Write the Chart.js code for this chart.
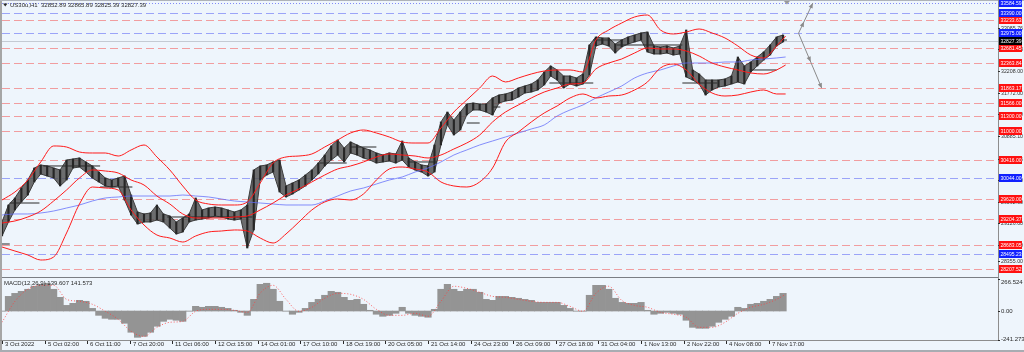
<!DOCTYPE html>
<html>
<head>
<meta charset="utf-8">
<script src="https://cdn.jsdelivr.net/npm/chart.js@4.4.1/dist/chart.umd.min.js"></script>
<style>
html,body{margin:0;padding:0;background:#eef5fc;overflow:hidden;}
#wrap{position:relative;width:1024px;height:352px;background:#eef5fc;}
canvas{position:absolute;left:0;}
#main{top:0;}
#macd{top:277px;}
</style>
</head>
<body>
<div id="wrap">
<canvas id="main" width="1024" height="278"></canvas>
<canvas id="macd" width="1024" height="75"></canvas>
</div>
<script>
// ---------------- data ----------------
const symbolTitle = 'US30u,H1  32852.89 32865.89 32825.39 32827.39';
const macdTitle = 'MACD(12,26,9) 139.607 141.573';

// price ranges, one entry per 5 H1 bars
const candleStep = 5;
const candleHigh = [29153,29497,29639,29841,30003,30246,30307,30287,30246,30206,
30408,30428,30449,30368,30287,30165,30044,30003,30044,30084,
29699,29355,29315,29335,29497,29315,29274,29153,29234,29315,
29639,29396,29436,29456,29436,29396,29355,29396,29497,30206,
30287,30307,30368,30408,29882,29942,30003,30104,30206,30347,
30509,30692,30813,30651,30773,30712,30651,30611,30550,30509,
30550,30530,30793,30449,30368,30307,30287,30712,31178,31380,
31218,31380,31542,31562,31542,31542,31664,31724,31745,31785,
31866,31907,31947,32028,32190,32312,32231,32109,32109,32069,
32150,32737,32899,32879,32879,32757,32838,32899,32939,32980,
33000,32717,32696,32717,32676,32717,33041,32231,32150,32028,
32028,32028,32048,32109,32494,32312,32393,32494,32595,32737,
32899,32939];
const candleLow = [28869,29153,29396,29558,29699,29963,30125,30084,30044,29882,
30003,30246,30266,30165,30044,29963,29882,29861,29882,29598,
29294,29112,29153,29153,29193,29153,29031,28910,28950,29153,
29193,29213,29234,29274,29254,29213,29193,29213,28626,28991,
30003,30104,30165,29760,29659,29720,29801,29882,30003,30125,
30287,30408,30509,30368,30550,30509,30449,30408,30347,30368,
30388,30347,30408,30266,30206,30165,30084,30165,30712,31117,
30914,31016,31319,31421,31421,31380,31319,31562,31603,31623,
31684,31765,31785,31826,31927,32109,32028,31866,31947,31907,
31947,32129,32717,32757,32717,32575,32696,32757,32798,32838,
32595,32555,32555,32575,32534,32555,32089,32028,31947,31724,
31826,31886,31907,31947,31988,31947,32190,32312,32433,32534,
32717,32798];

// indicator lines (bar index positions)
const lineBars = [0,10,20,30,40,50,60,70,80,90,100,110,120,130,140,150,160,170,180,190,
200,210,220,230,240,250,260,270,280,290,300,310,320,330,340,350,360,370,380,390,
400,410,420,430,440,450,460,470,480,490,500,510,520,530,540,550,560,570,580,590,600,607];
const bbUpper = [29598,29760,30003,30368,30692,30671,30570,30550,30550,30489,
30611,30712,30469,30206,29882,29598,29517,29497,29497,29558,
29942,30347,30469,30489,30530,30671,30813,30955,31016,30955,
30874,30773,30752,30752,31056,31380,31623,31866,32109,31988,
32069,32150,32210,32231,32231,32190,32838,33041,33182,33304,
33344,33041,32960,33000,33061,32980,32879,32717,32534,32474,
32717,32919];
const bbMiddle = [29132,29173,29254,29375,29578,29801,30044,30206,30185,30145,
30003,29902,29679,29517,29315,29234,29234,29234,29254,29274,
29396,29537,29699,29821,29963,30104,30226,30287,30368,30469,
30530,30509,30489,30449,30509,30631,30752,30914,31178,31380,
31522,31664,31785,31866,31947,31967,32251,32372,32453,32575,
32676,32656,32656,32615,32514,32372,32291,32231,32170,32150,
32231,32332];
const bbLower = [28646,28565,28484,28383,28444,28930,29517,29861,29841,29801,
29396,29092,28889,28828,28747,28869,28950,28970,28991,28970,
28828,28727,28910,29153,29396,29558,29618,29598,29720,30003,
30226,30266,30226,30165,29963,29882,29861,29963,30246,30773,
30975,31178,31360,31502,31664,31745,31664,31704,31724,31826,
31988,32271,32352,32231,31947,31765,31704,31724,31785,31826,
31745,31745];
const maLine = [29294,29315,29315,29335,29375,29436,29497,29578,29639,29659,
29679,29679,29679,29679,29699,29679,29659,29618,29578,29558,
29537,29517,29497,29497,29497,29578,29679,29780,29841,29922,
30003,30064,30165,30246,30368,30509,30611,30712,30793,30874,
30955,31036,31117,31299,31421,31522,31664,31785,31907,32069,
32170,32231,32312,32372,32372,32372,32393,32393,32433,32453,
32474,32494];

// MACD
const macdHist = [-2,122,147,164,181,206,222,231,181,114,
47,64,89,81,22,-36,-61,-69,-69,-102,
-177,-219,-211,-177,-127,-86,-69,-77,-86,-2,
39,31,39,39,31,22,6,-11,-36,97,
222,231,181,81,-2,-27,-11,22,72,97,
131,164,156,114,89,97,56,6,-27,-44,
-36,-19,31,-19,-36,-44,-52,14,181,222,
181,164,181,181,156,97,89,122,122,114,
106,97,89,72,72,72,72,47,22,-2,
-2,131,214,214,181,106,72,64,64,72,
6,-27,-19,-11,-19,-27,-77,-136,-144,-144,
-127,-94,-69,-44,31,22,56,64,81,97,
122,147];
const macdSignal = [-94,81,181,214,214,97,81,56,-2,-69,
-169,-211,-136,-94,-86,-2,14,14,6,-11,
150,214,97,-2,31,106,147,139,97,14,
-36,-36,-19,-44,81,206,189,156,122,114,
97,81,72,72,39,-2,147,206,89,47,
31,-11,-27,-52,-136,-136,-94,-19,31,56,
97,139];

// short horizontal segments
const segStart = [0,6,32,76,128,246,270,314,360,380,424,458,476,527,579,603];
const segEnd   = [6,29,76,101,194,267,290,337,370,386,458,481,527,554,600,608];
const segPrice = [28707,29537,30287,29861,29254,30347,30671,30368,31157,31481,31967,32838,32737,31967,32231,32838];

// projection arrows: start, up target, down target
const projBars = [617, 628, 635];
const projPrices = [32975.00, 33584.59, 31863.17];

// horizontal levels
const topLevel = 33584.59;
const blueLevels = [33390.00, 32975.00, 30044.00, 28495.23];
const redLevels = [33233.63, 32681.45, 32363.84, 31863.17, 31566.00, 31300.00, 31000.00, 30416.00, 29620.00, 29204.37, 28683.05, 28207.52];
const lastPrice = 32827.39;
const priceTicks = [33085.76, 32646.88, 32208.00, 31772.00, 31336.00, 30885.10, 30435.46, 29998.00, 29562.00, 29126.00, 28690.00, 28355.00];
const macdTickValues = [266.524, 0, -241.273];
const macdTickLabels = ['266.524', '0.00', '-241.273'];

const timeBars = [0,33,66,99,132,165,198,231,264,297,330,363,396,429,462,495,528,561,594];
const timeLabels = ['3 Oct 2022','5 Oct 02:00','6 Oct 11:00','7 Oct 20:00','11 Oct 06:00','12 Oct 15:00','14 Oct 01:00','17 Oct 10:00','18 Oct 19:00','20 Oct 05:00','21 Oct 14:00','24 Oct 23:00','26 Oct 09:00','27 Oct 18:00','31 Oct 04:00','1 Nov 13:00','2 Nov 22:00','4 Nov 08:00','7 Nov 17:00'];

const xMax = 771.5;
const priceMin = 28059, priceMax = 33607.5;
const macdMin = -241.273, macdMax = 266.524;
const lastBar = 608;

// ---------------- helpers ----------------
const FONT = '6px "Liberation Sans", Arial, sans-serif';
const pts = (xs, ys) => ys.map((v, i) => ({x: xs[i], y: v}));
function hline(ctx, x1, x2, y){ctx.beginPath();ctx.moveTo(x1,y);ctx.lineTo(x2,y);ctx.stroke();}
function arrowHead(ctx,x0,y0,x1,y1,t){
  const px=x0+(x1-x0)*t, py=y0+(y1-y0)*t, a=Math.atan2(y1-y0,x1-x0), L=5, W=2.2;
  ctx.beginPath();ctx.moveTo(px,py);
  ctx.lineTo(px-L*Math.cos(a)+W*Math.sin(a),py-L*Math.sin(a)-W*Math.cos(a));
  ctx.lineTo(px-L*Math.cos(a)-W*Math.sin(a),py-L*Math.sin(a)+W*Math.cos(a));
  ctx.closePath();ctx.fill();
}

const segData = [];
segStart.forEach((s,i)=>{segData.push({x:s,y:segPrice[i]},{x:segEnd[i],y:segPrice[i]},{x:segEnd[i],y:null});});

const candleData = candleHigh.map((h,i)=>({x:i*candleStep, y:[candleLow[i], h]}));
const highData = candleHigh.map((h,i)=>({x:i*candleStep, y:h}));
const lowData = candleLow.map((l,i)=>({x:i*candleStep, y:l}));
const histData = macdHist.map((v,i)=>({x:i*candleStep, y:v}));

// ---------------- main chart ----------------
const mainDeco = {
  id:'mainDeco',
  beforeDatasetsDraw(chart){
    const {ctx, chartArea:a, scales:{y}} = chart;
    ctx.save();
    ctx.lineWidth = 1;
    ctx.strokeStyle = '#c4cad3';
    hline(ctx, a.left, a.right, Math.round(y.getPixelForValue(lastPrice))+0.5);
    ctx.setLineDash([8,4]);
    ctx.strokeStyle = 'rgba(242,120,120,0.7)';
    redLevels.forEach(v=>hline(ctx,a.left,a.right,Math.round(y.getPixelForValue(v))+0.5));
    ctx.strokeStyle = 'rgba(100,110,245,0.6)';
    blueLevels.forEach(v=>hline(ctx,a.left,a.right,Math.round(y.getPixelForValue(v))+0.5));
    ctx.setLineDash([1,2]);
    ctx.strokeStyle = 'rgba(100,110,245,0.8)';
    hline(ctx,a.left,a.right,Math.round(y.getPixelForValue(topLevel))+0.5);
    ctx.restore();
  },
  afterDraw(chart){
    const {ctx, chartArea:a, scales:{x,y}} = chart;
    ctx.save();
    ctx.fillStyle = '#8a8a8a';
    const x0 = x.getPixelForValue(projBars[0]), y0 = y.getPixelForValue(projPrices[0]);
    const xu = x.getPixelForValue(projBars[1]), yu = y.getPixelForValue(projPrices[1]);
    const xd = x.getPixelForValue(projBars[2]), yd = y.getPixelForValue(projPrices[2]);
    arrowHead(ctx,x0,y0,xu,yu,0.38); arrowHead(ctx,x0,y0,xu,yu,1);
    arrowHead(ctx,x0,y0,xd,yd,0.52); arrowHead(ctx,x0,y0,xd,yd,1);
    ctx.fillStyle = '#a6a6a6'; ctx.fillRect(0,0,2,278);
    ctx.fillStyle = '#aeb2b8'; ctx.fillRect(0,0,1024,1);
    ctx.fillStyle = '#8d8d8d'; ctx.fillRect(998,0,1,277);
    ctx.fillStyle = '#7a7e84'; ctx.fillRect(0,277,998,1);
    const sx = x.getPixelForValue(lastBar);
    ctx.fillStyle = '#9a9a9a';
    ctx.beginPath(); ctx.moveTo(sx-3,1); ctx.lineTo(sx+3,1); ctx.lineTo(sx,4.5); ctx.closePath(); ctx.fill();
    ctx.fillStyle = '#2a2a2a';
    ctx.beginPath(); ctx.moveTo(3,3.5); ctx.lineTo(7.5,3.5); ctx.lineTo(5.25,6.5); ctx.closePath(); ctx.fill();
    ctx.font = FONT; ctx.textBaseline = 'middle'; ctx.textAlign = 'left';
    ctx.fillText(symbolTitle, 10, 5.5);
    ctx.fillStyle = '#333';
    priceTicks.forEach(v=>{
      const py = Math.round(y.getPixelForValue(v));
      ctx.fillRect(998,py,2,1);
      ctx.fillText(v.toFixed(2), 1001, py+0.5, 22);
    });
    const box = (v,color)=>{
      const py = Math.round(y.getPixelForValue(v));
      ctx.fillStyle = color; ctx.fillRect(999,py-4,23,8);
      ctx.fillStyle = '#fff'; ctx.fillText(v.toFixed(2), 1000.5, py+0.5, 21);
    };
    redLevels.forEach(v=>box(v,'#ff1010'));
    blueLevels.forEach(v=>box(v,'#1020ff'));
    box(topLevel,'#1020ff');
    box(lastPrice,'#000');
    ctx.restore();
  }
};

new Chart(document.getElementById('main'), {
  type: 'line',
  data: {
    datasets: [
      {type:'line', data: pts([projBars[0],projBars[1]],[projPrices[0],projPrices[1]]), borderColor:'#8a8a8a', borderWidth:1, pointRadius:0},
      {type:'line', data: pts([projBars[0],projBars[2]],[projPrices[0],projPrices[2]]), borderColor:'#8a8a8a', borderWidth:1, pointRadius:0},
      {type:'line', data: pts(lineBars,bbUpper), borderColor:'#ff1a1a', borderWidth:1, pointRadius:0, cubicInterpolationMode:'monotone'},
      {type:'line', data: pts(lineBars,bbMiddle), borderColor:'#ff1a1a', borderWidth:1, pointRadius:0, cubicInterpolationMode:'monotone'},
      {type:'line', data: pts(lineBars,bbLower), borderColor:'#ff1a1a', borderWidth:1, pointRadius:0, cubicInterpolationMode:'monotone'},
      {type:'line', data: pts(lineBars,maLine), borderColor:'rgba(95,105,250,0.75)', borderWidth:1, pointRadius:0, cubicInterpolationMode:'monotone'},
      {type:'line', data: segData, borderColor:'#2a2a2a', borderWidth:1, pointRadius:0, spanGaps:false},
      {type:'bar', data: candleData, backgroundColor:'#262626', borderWidth:0, barThickness:1.5},
      {type:'line', data: highData, borderColor:'#3c3c3c', borderWidth:1, pointRadius:0, fill:false},
      {type:'line', data: lowData, borderColor:'#3c3c3c', borderWidth:1, pointRadius:0, fill:'-1', backgroundColor:'rgba(85,85,85,0.85)'}
    ]
  },
  options: {
    responsive:false, animation:false, events:[],
    layout:{padding:{left:2,right:26,top:2,bottom:2}},
    plugins:{legend:{display:false}, tooltip:{enabled:false}, filler:{propagate:false}},
    scales:{
      x:{type:'linear', min:0, max:xMax, display:false, offset:false},
      y:{type:'linear', min:priceMin, max:priceMax, display:false}
    }
  },
  plugins:[mainDeco]
});

// ---------------- MACD chart ----------------
const macdDeco = {
  id:'macdDeco',
  afterDraw(chart){
    const {ctx, chartArea:a, scales:{x,y}} = chart;
    ctx.save();
    ctx.fillStyle = '#a6a6a6'; ctx.fillRect(0,0,2,75);
    ctx.fillStyle = '#8d8d8d'; ctx.fillRect(998,0,1,64);
    ctx.fillStyle = '#8d8d8d'; ctx.fillRect(0,63,999,1);
    ctx.fillStyle = '#a8acb2'; ctx.fillRect(0,73,1024,2);
    ctx.font = FONT; ctx.textBaseline = 'middle'; ctx.textAlign = 'left';
    ctx.fillStyle = '#2a2a2a';
    ctx.fillText(macdTitle, 4, 6);
    macdTickValues.forEach((v,i)=>{
      let py = Math.round(y.getPixelForValue(v));
      ctx.fillRect(998,py,2,1);
      const off = i===0 ? 3 : (i===2 ? -1 : 0.5);
      ctx.fillText(macdTickLabels[i], 1001, py+off);
    });
    timeBars.forEach((b,i)=>{
      const px = Math.round(x.getPixelForValue(b));
      ctx.fillRect(px,64,1,3);
      ctx.fillText(timeLabels[i], px+3, 67.5);
    });
    ctx.restore();
  }
};

new Chart(document.getElementById('macd'), {
  type: 'line',
  data: {
    datasets: [
      {type:'line', data: pts(lineBars,macdSignal), borderColor:'rgba(255,60,60,0.8)', borderWidth:1, borderDash:[1,2], pointRadius:0, cubicInterpolationMode:'monotone'},
      {type:'bar', data: histData, backgroundColor:'#949494', borderWidth:0, barThickness:6.5}
    ]
  },
  options: {
    responsive:false, animation:false, events:[],
    layout:{padding:{left:2,right:26,top:2,bottom:12}},
    plugins:{legend:{display:false}, tooltip:{enabled:false}},
    scales:{
      x:{type:'linear', min:0, max:xMax, display:false, offset:false},
      y:{type:'linear', min:macdMin, max:macdMax, display:false}
    }
  },
  plugins:[macdDeco]
});
</script>
</body>
</html>
